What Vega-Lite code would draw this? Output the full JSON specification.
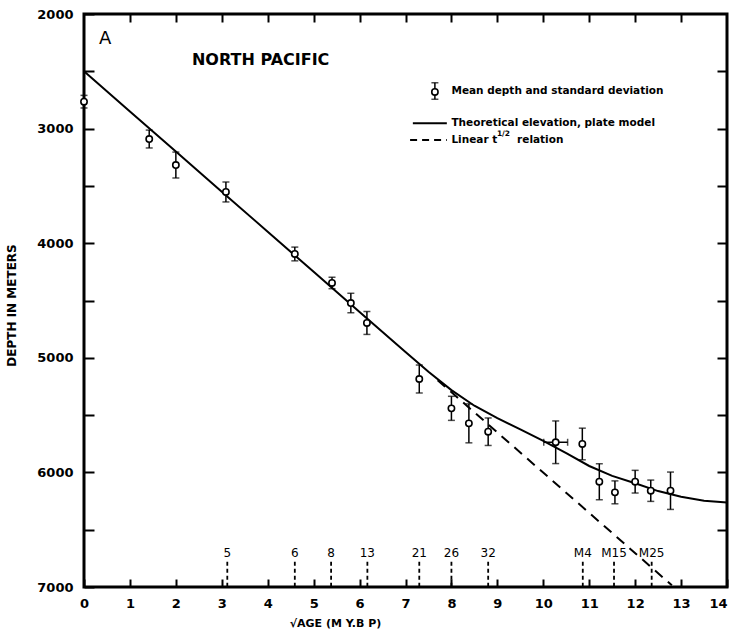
{
  "$schema": "https://vega.github.io/schema/vega-lite/v6.json",
  "width": 643,
  "height": 573,
  "autosize": "none",
  "padding": {"left": 84, "top": 14, "right": 3, "bottom": 43},
  "config": {
    "view": {"stroke": "black", "strokeWidth": 3},
    "font": "DejaVu Sans",
    "axis": {"grid": false, "domain": false, "tickColor": "black", "labelColor": "black", "titleColor": "black"}
  },
  "datasets": {
    "pts": [
      {"x": 0, "depth": 2765, "lo": 2710, "hi": 2820},
      {"x": 1.42, "depth": 3091, "lo": 3013, "hi": 3169},
      {"x": 2.0, "depth": 3318, "lo": 3205, "hi": 3431},
      {"x": 3.09, "depth": 3553, "lo": 3466, "hi": 3640},
      {"x": 4.59, "depth": 4094, "lo": 4034, "hi": 4154},
      {"x": 5.40, "depth": 4347, "lo": 4297, "hi": 4397},
      {"x": 5.81, "depth": 4522, "lo": 4437, "hi": 4607},
      {"x": 6.16, "depth": 4696, "lo": 4596, "hi": 4796},
      {"x": 7.30, "depth": 5185, "lo": 5063, "hi": 5307},
      {"x": 8.0, "depth": 5441, "lo": 5336, "hi": 5546},
      {"x": 8.38, "depth": 5572, "lo": 5402, "hi": 5742},
      {"x": 8.80, "depth": 5645, "lo": 5525, "hi": 5765},
      {"x": 10.27, "depth": 5737, "lo": 5551, "hi": 5923},
      {"x": 10.85, "depth": 5752, "lo": 5614, "hi": 5890},
      {"x": 11.22, "depth": 6081, "lo": 5924, "hi": 6238},
      {"x": 11.56, "depth": 6174, "lo": 6074, "hi": 6274},
      {"x": 12.0, "depth": 6081, "lo": 5982, "hi": 6180},
      {"x": 12.34, "depth": 6160, "lo": 6067, "hi": 6253},
      {"x": 12.77, "depth": 6160, "lo": 5997, "hi": 6323},
      {"x": 7.64, "depth": 2680, "lo": 2600, "hi": 2744}
    ],
    "herr": [
      {"xlo": 10.01, "xhi": 10.53, "depth": 5737}
    ],
    "curve": [
      {"x": 0, "depth": 2500},
      {"x": 1, "depth": 2850},
      {"x": 2, "depth": 3200},
      {"x": 3, "depth": 3550},
      {"x": 4, "depth": 3900},
      {"x": 5, "depth": 4250},
      {"x": 6, "depth": 4600},
      {"x": 7, "depth": 4950},
      {"x": 7.5, "depth": 5122},
      {"x": 8, "depth": 5282},
      {"x": 8.5, "depth": 5418},
      {"x": 9, "depth": 5526},
      {"x": 9.5, "depth": 5624},
      {"x": 10, "depth": 5725},
      {"x": 10.5, "depth": 5832},
      {"x": 11, "depth": 5944},
      {"x": 11.5, "depth": 6030},
      {"x": 12, "depth": 6095},
      {"x": 12.5, "depth": 6163},
      {"x": 13, "depth": 6213},
      {"x": 13.5, "depth": 6247},
      {"x": 14, "depth": 6262}
    ],
    "dashed": [
      {"x": 7.7, "depth": 5195},
      {"x": 12.8, "depth": 6985}
    ],
    "legendlines": [
      {"x": 7.16, "x2": 7.9, "depth": 2954, "style": "solid"},
      {"x": 7.1, "x2": 7.9, "depth": 3100, "style": "dashed"}
    ],
    "markers": [
      {"x": 3.12, "label": "5"},
      {"x": 4.59, "label": "6"},
      {"x": 5.38, "label": "8"},
      {"x": 6.17, "label": "13"},
      {"x": 7.30, "label": "21"},
      {"x": 8.0, "label": "26"},
      {"x": 8.80, "label": "32"},
      {"x": 10.86, "label": "M4"},
      {"x": 11.54, "label": "M15"},
      {"x": 12.36, "label": "M25"}
    ],
    "legendtext": [
      {"x": 8.0, "depth": 2670, "label": "Mean depth and standard deviation"},
      {"x": 8.0, "depth": 2954, "label": "Theoretical elevation, plate model"},
      {"x": 8.0, "depth": 3100, "label": "Linear  t"},
      {"x": 9.43, "depth": 3100, "label": "relation"}
    ]
  },
  "resolve": {"axis": {"x": "independent", "y": "independent"}},
  "layer": [
    {
      "data": {"name": "curve"},
      "mark": {"type": "line", "color": "black", "strokeWidth": 2},
      "encoding": {
        "x": {"field": "x", "type": "quantitative", "scale": {"domain": [0, 14], "nice": false, "zero": false},
          "axis": {"orient": "bottom", "values": [0,1,2,3,4,5,6,7,8,9,10,11,12,13,14], "tickSize": -8, "tickWidth": 2,
            "labelFontSize": 13, "labelFontWeight": "bold", "labelPadding": 18, "labelFlush": false,
            "labelAlign": {"condition": {"test": "datum.value == 14", "value": "right"}, "value": "center"},
            "title": "√AGE (M Y.B P)", "titleFontSize": 11, "titleFontWeight": "bold", "titleX": 251, "titleY": 30}},
        "y": {"field": "depth", "type": "quantitative", "scale": {"domain": [2000, 7000], "reverse": true, "nice": false, "zero": false},
          "axis": {"orient": "left", "values": [2000,2500,3000,3500,4000,4500,5000,5500,6000,6500,7000], "tickSize": -10, "tickWidth": 2,
            "labelExpr": "datum.value % 1000 == 0 ? datum.value : ''", "labelFontSize": 13, "labelFontWeight": "bold", "labelPadding": 21, "labelFlush": false,
            "title": "DEPTH     IN   METERS", "titleFontSize": 12, "titleFontWeight": "bold", "titleX": -66, "titleY": 291}}
      }
    },
    {
      "data": {"name": "dashed"},
      "mark": {"type": "line", "color": "black", "strokeWidth": 2, "strokeDash": [10, 7]},
      "encoding": {
        "x": {"field": "x", "type": "quantitative", "scale": {"domain": [0, 14]},
          "axis": {"orient": "top", "values": [1,2,3,4,5,6,7,8,9,10,11,12,13], "tickSize": -8, "tickWidth": 2, "labels": false, "title": null}},
        "y": {"field": "depth", "type": "quantitative", "scale": {"domain": [2000, 7000]},
          "axis": {"orient": "right", "values": [2500,3000,3500,4000,4500,5000,5500,6000,6500], "tickSize": -10, "tickWidth": 2, "labels": false, "title": null}}
      }
    },
    {
      "data": {"name": "pts"},
      "mark": {"type": "rule", "color": "black", "strokeWidth": 1.5},
      "encoding": {
        "x": {"field": "x", "type": "quantitative", "axis": null},
        "y": {"field": "lo", "type": "quantitative", "axis": null},
        "y2": {"field": "hi"}
      }
    },
    {
      "data": {"name": "pts"},
      "mark": {"type": "tick", "orient": "horizontal", "color": "black", "size": 7, "thickness": 1.5},
      "encoding": {
        "x": {"field": "x", "type": "quantitative", "axis": null},
        "y": {"field": "lo", "type": "quantitative", "axis": null}
      }
    },
    {
      "data": {"name": "pts"},
      "mark": {"type": "tick", "orient": "horizontal", "color": "black", "size": 7, "thickness": 1.5},
      "encoding": {
        "x": {"field": "x", "type": "quantitative", "axis": null},
        "y": {"field": "hi", "type": "quantitative", "axis": null}
      }
    },
    {
      "data": {"name": "herr"},
      "mark": {"type": "rule", "color": "black", "strokeWidth": 1.5},
      "encoding": {
        "x": {"field": "xlo", "type": "quantitative", "axis": null},
        "x2": {"field": "xhi"},
        "y": {"field": "depth", "type": "quantitative", "axis": null}
      }
    },
    {
      "data": {"name": "herr"},
      "mark": {"type": "tick", "orient": "vertical", "color": "black", "size": 7, "thickness": 1.5},
      "encoding": {
        "x": {"field": "xlo", "type": "quantitative", "axis": null},
        "y": {"field": "depth", "type": "quantitative", "axis": null}
      }
    },
    {
      "data": {"name": "herr"},
      "mark": {"type": "tick", "orient": "vertical", "color": "black", "size": 7, "thickness": 1.5},
      "encoding": {
        "x": {"field": "xhi", "type": "quantitative", "axis": null},
        "y": {"field": "depth", "type": "quantitative", "axis": null}
      }
    },
    {
      "data": {"name": "pts"},
      "mark": {"type": "point", "shape": "circle", "filled": true, "fill": "white", "stroke": "black", "strokeWidth": 1.6, "size": 40, "opacity": 1},
      "encoding": {
        "x": {"field": "x", "type": "quantitative", "axis": null},
        "y": {"field": "depth", "type": "quantitative", "axis": null}
      }
    },
    {
      "data": {"name": "legendlines"},
      "mark": {"type": "rule", "color": "black", "strokeWidth": 2},
      "encoding": {
        "x": {"field": "x", "type": "quantitative", "axis": null},
        "x2": {"field": "x2"},
        "y": {"field": "depth", "type": "quantitative", "axis": null},
        "strokeDash": {"field": "style", "type": "nominal", "scale": {"domain": ["solid", "dashed"], "range": [[1, 0], [7, 5]]}, "legend": null}
      }
    },
    {
      "data": {"name": "markers"},
      "mark": {"type": "rule", "color": "black", "strokeWidth": 1.8, "strokeDash": [4, 3]},
      "encoding": {
        "x": {"field": "x", "type": "quantitative", "axis": null},
        "y": {"datum": 6780, "type": "quantitative", "axis": null},
        "y2": {"datum": 7000}
      }
    },
    {
      "data": {"name": "markers"},
      "mark": {"type": "text", "fontSize": 12, "baseline": "middle", "align": "center", "color": "black"},
      "encoding": {
        "x": {"field": "x", "type": "quantitative", "axis": null},
        "y": {"datum": 6703, "type": "quantitative", "axis": null},
        "text": {"field": "label"}
      }
    },
    {
      "data": {"name": "legendtext"},
      "mark": {"type": "text", "fontSize": 10.5, "fontWeight": "bold", "baseline": "middle", "align": "left", "color": "black"},
      "encoding": {
        "x": {"field": "x", "type": "quantitative", "axis": null},
        "y": {"field": "depth", "type": "quantitative", "axis": null},
        "text": {"field": "label"}
      }
    },
    {
      "data": {"values": [{"x": 8.99, "depth": 3050, "label": "1/2"}]},
      "mark": {"type": "text", "fontSize": 7.5, "fontWeight": "bold", "baseline": "middle", "align": "left", "color": "black"},
      "encoding": {
        "x": {"field": "x", "type": "quantitative", "axis": null},
        "y": {"field": "depth", "type": "quantitative", "axis": null},
        "text": {"field": "label"}
      }
    },
    {
      "data": {"values": [{"x": 0.46, "depth": 2214, "label": "A"}]},
      "mark": {"type": "text", "fontSize": 18, "baseline": "middle", "align": "center", "color": "black"},
      "encoding": {
        "x": {"field": "x", "type": "quantitative", "axis": null},
        "y": {"field": "depth", "type": "quantitative", "axis": null},
        "text": {"field": "label"}
      }
    },
    {
      "data": {"values": [{"x": 2.35, "depth": 2401, "label": "NORTH PACIFIC"}]},
      "mark": {"type": "text", "fontSize": 16, "fontWeight": "bold", "baseline": "middle", "align": "left", "color": "black"},
      "encoding": {
        "x": {"field": "x", "type": "quantitative", "axis": null},
        "y": {"field": "depth", "type": "quantitative", "axis": null},
        "text": {"field": "label"}
      }
    }
  ]
}
